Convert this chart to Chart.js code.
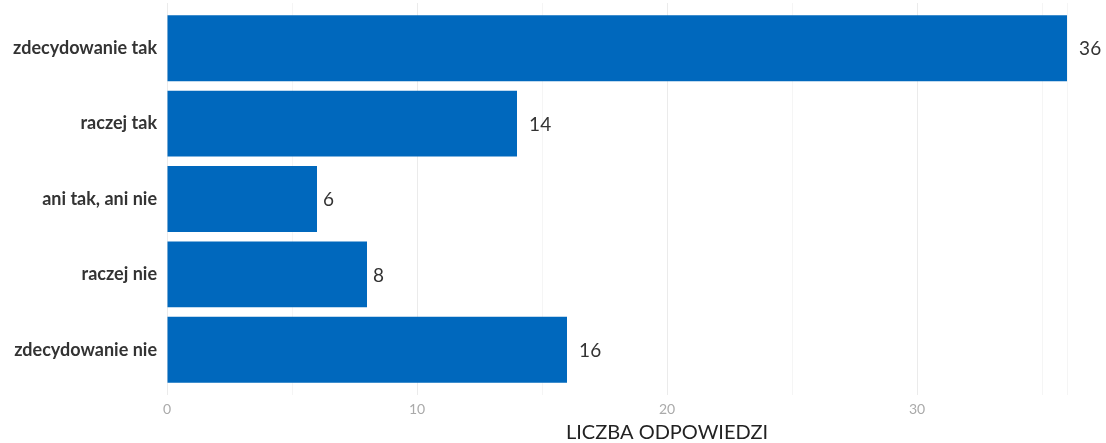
<!DOCTYPE html>
<html>
<head>
<meta charset="utf-8">
<script src="https://cdn.jsdelivr.net/npm/chart.js@4"></script>
<style>
body{margin:0;background:#fff;}
#wrap{width:1106px;height:443px;position:relative;}
</style>
</head>
<body>
<div id="wrap"><canvas id="answersChart"></canvas></div>
<script>
const categories=['zdecydowanie tak','raczej tak','ani tak, ani nie','raczej nie','zdecydowanie nie'];
const answerCounts=[36,14,6,8,16];
const axisTitle='LICZBA ODPOWIEDZI';

const barColor='#0068bd';

// value labels next to bars + axis title under the scale
const labelsPlugin={
    id:'labelsPlugin',
    afterDraw(chart) {
        const ctx=chart.ctx;
        const meta=chart.getDatasetMeta(0);
        ctx.save();
        ctx.font='19px Lato';
        ctx.fillStyle='#333';
        ctx.textBaseline='middle';
        ctx.textAlign='left';
        meta.data.forEach((bar, i)=> {
            const txt=String(answerCounts[i]);
            const w=ctx.measureText(txt).width;
            ctx.fillText(txt, bar.x + w * 0.55, bar.y + 1);
        });
        const xScale=chart.scales.x;
        ctx.font='20px Lato';
        ctx.fillStyle='#222';
        ctx.textAlign='center';
        ctx.fillText(axisTitle, xScale.getPixelForValue(20), 433);
        ctx.restore();
    }
};

const ctx=document.getElementById('answersChart').getContext('2d');
new Chart(ctx, {
    type: 'bar',
    data: {
        datasets: [{
            data: answerCounts.map((v, i)=> ({x: v, y: i + 1})),
            backgroundColor: barColor,
            borderWidth: 0,
            categoryPercentage: 1,
            barPercentage: 0.875
        }]
    },
    options: {
        indexAxis: 'y',
        responsive: true,
        maintainAspectRatio: false,
        animation: false,
        layout: { padding: { top: 3, right: 39, bottom: 0, left: 0 } },
        plugins: {
            legend: { display: false },
            tooltip: { enabled: false }
        },
        scales: {
            x: {
                type: 'linear',
                min: 0,
                max: 36,
                border: { display: false },
                grid: {
                    drawTicks: false,
                    color: (c)=> (c.tick && c.tick.value % 10===0) ? '#ebebeb' : '#f5f5f5'
                },
                ticks: {
                    stepSize: 5,
                    padding: 6,
                    color: '#aaa',
                    font: { family: 'Lato', size: 14 },
                    callback: (v)=> v % 10===0 ? v : ''
                },
                afterFit: (scale)=> { scale.height=48; scale.paddingLeft=0; scale.paddingRight=0; }
            },
            y: {
                type: 'linear',
                min: 0.4,
                max: 5.6,
                offset: false,
                reverse: true,
                border: { display: false },
                grid: { display: false, drawTicks: false },
                afterBuildTicks: (scale)=> {
                    scale.ticks=categories.map((c, i)=> ({ value: i + 1 }));
                },
                ticks: {
                    padding: 10,
                    color: '#333',
                    font: { family: 'Lato', size: 18, weight: 'bold' },
                    callback: (v)=> categories[v - 1]
                },
                afterFit: (scale)=> { scale.width=167; scale.paddingTop=0; scale.paddingBottom=0; }
            }
        }
    },
    plugins: [labelsPlugin]
});
</script>
</body>
</html>
